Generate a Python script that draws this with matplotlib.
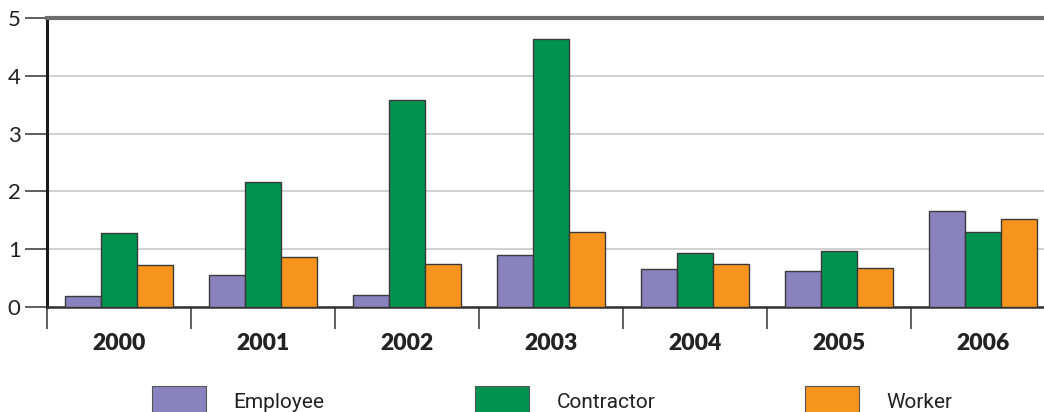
import matplotlib
matplotlib.use("Agg")
import matplotlib.pyplot as plt
from matplotlib.patches import Patch
import numpy as np

years = ["2000", "2001", "2002", "2003", "2004", "2005", "2006"]
employee = [0.19, 0.55, 0.21, 0.90, 0.66, 0.62, 1.66]
contractor = [1.28, 2.16, 3.58, 4.64, 0.93, 0.97, 1.30]
worker = [0.73, 0.87, 0.74, 1.30, 0.74, 0.67, 1.52]

series = [("Employee", employee, "#8a82be"),
          ("Contractor", contractor, "#00924f"),
          ("Worker", worker, "#f7941e")]

# left edge of each legend swatch, in figure pixels
legend_x = [152, 475, 805]

plt.rcParams["font.family"] = ["Lato", "DejaVu Sans"]

fig = plt.figure(figsize=(10.44, 4.12), dpi=100)
# axes runs a bit past the right edge so the last group is cut off
ax = fig.add_axes([47 / 1044, 105 / 412, 1008 / 1044, 289 / 412])

x = np.arange(len(years))
w = 0.25
for i, (name, vals, color) in enumerate(series):
    ax.bar(x + (i - 1) * w, vals, width=w, color=color,
           edgecolor="#3a3a3a", linewidth=1.0, label=name, zorder=3)

ax.set_xlim(-0.5, len(years) - 0.5)
ax.set_ylim(0, 5)
ax.set_yticks(range(6))
ax.yaxis.grid(True, color="#c8c8c8", linewidth=1.2, zorder=0)

ax.spines["left"].set_linewidth(2.2)
ax.spines["left"].set_color("#1a1a1a")
ax.spines["bottom"].set_linewidth(1.8)
ax.spines["bottom"].set_color("#333333")
ax.spines["top"].set_linewidth(3)
ax.spines["top"].set_color("#6d6d6d")
ax.spines["right"].set_visible(False)

ax.tick_params(axis="y", direction="out", length=16, width=1.2,
               color="#444444", labelsize=16, pad=3, labelcolor="#222222")
# x ticks sit on group boundaries, labels in the middle of each group
ax.set_xticks(np.arange(len(years) + 1) - 0.5)
ax.set_xticklabels([])
ax.set_xticks(x, minor=True)
ax.set_xticklabels(years, minor=True, fontsize=16.5, fontweight="heavy",
                   color="#222222")
ax.tick_params(axis="x", which="major", direction="out", length=16,
               width=1.2, color="#444444")
ax.tick_params(axis="x", which="minor", length=0, pad=19)

for (name, _, color), lx in zip(series, legend_x):
    h = Patch(facecolor=color, edgecolor="#555555", linewidth=0.8, label=name)
    leg = fig.legend(handles=[h], loc="upper left",
                     bbox_to_anchor=(lx / 1044, 1 - 386 / 412),
                     frameon=False, borderpad=0, borderaxespad=0,
                     prop={"family": ["Roboto", "DejaVu Sans"], "size": 15},
                     handlelength=2.6, handleheight=1.9, handletextpad=1.3)
    for t in leg.get_texts():
        t.set_color("#222222")

fig.savefig("out.png", dpi=100)
